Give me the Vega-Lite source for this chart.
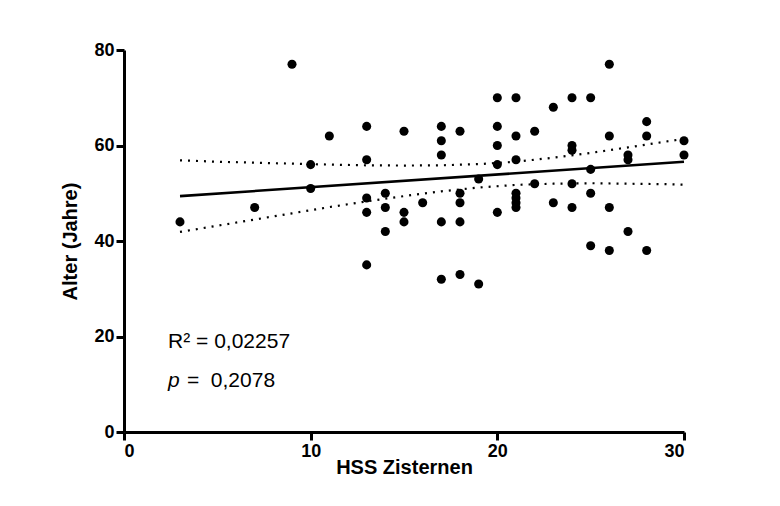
{
  "$schema": "https://vega.github.io/schema/vega-lite/v6.json",
  "autosize": "none",
  "width": 560,
  "height": 382,
  "padding": {"left": 124, "top": 50, "right": 96, "bottom": 74},
  "background": "white",
  "config": {
    "view": {"stroke": null},
    "axis": {
      "grid": false,
      "domainColor": "black",
      "domainWidth": 3,
      "tickColor": "black",
      "tickWidth": 3,
      "tickSize": 8,
      "labelFont": "Liberation Sans",
      "labelFontWeight": "bold",
      "labelFontSize": 18,
      "labelColor": "black",
      "labelPadding": 2,
      "titleFont": "Liberation Sans",
      "titleFontWeight": "bold",
      "titleFontSize": 20,
      "titleColor": "black"
    }
  },
  "datasets": {
    "points": [
      {"x": 3, "y": 44}, {"x": 7, "y": 47}, {"x": 9, "y": 77},
      {"x": 10, "y": 56}, {"x": 10, "y": 51}, {"x": 11, "y": 62},
      {"x": 13, "y": 64}, {"x": 13, "y": 57}, {"x": 13, "y": 49}, {"x": 13, "y": 46}, {"x": 13, "y": 35},
      {"x": 14, "y": 50}, {"x": 14, "y": 47}, {"x": 14, "y": 42},
      {"x": 15, "y": 63}, {"x": 15, "y": 46}, {"x": 15, "y": 44},
      {"x": 16, "y": 48},
      {"x": 17, "y": 64}, {"x": 17, "y": 61}, {"x": 17, "y": 58}, {"x": 17, "y": 44}, {"x": 17, "y": 32},
      {"x": 18, "y": 63}, {"x": 18, "y": 50}, {"x": 18, "y": 48}, {"x": 18, "y": 44}, {"x": 18, "y": 33},
      {"x": 19, "y": 53}, {"x": 19, "y": 31},
      {"x": 20, "y": 70}, {"x": 20, "y": 64}, {"x": 20, "y": 60}, {"x": 20, "y": 56}, {"x": 20, "y": 46},
      {"x": 21, "y": 70}, {"x": 21, "y": 62}, {"x": 21, "y": 57}, {"x": 21, "y": 50}, {"x": 21, "y": 49}, {"x": 21, "y": 48}, {"x": 21, "y": 47},
      {"x": 22, "y": 63}, {"x": 22, "y": 52},
      {"x": 23, "y": 68}, {"x": 23, "y": 48},
      {"x": 24, "y": 70}, {"x": 24, "y": 60}, {"x": 24, "y": 59}, {"x": 24, "y": 52}, {"x": 24, "y": 47},
      {"x": 25, "y": 70}, {"x": 25, "y": 55}, {"x": 25, "y": 50}, {"x": 25, "y": 39},
      {"x": 26, "y": 77}, {"x": 26, "y": 62}, {"x": 26, "y": 47}, {"x": 26, "y": 38},
      {"x": 27, "y": 58}, {"x": 27, "y": 57}, {"x": 27, "y": 42},
      {"x": 28, "y": 65}, {"x": 28, "y": 62}, {"x": 28, "y": 38},
      {"x": 30, "y": 61}, {"x": 30, "y": 58}
    ],
    "fit": [{"x": 3, "y": 49.4}, {"x": 30, "y": 56.6}],
    "band": [
      {"x": 3, "y": 56.9, "side": "upper"}, {"x": 5, "y": 56.6, "side": "upper"}, {"x": 7, "y": 56.4, "side": "upper"},
      {"x": 9, "y": 56.2, "side": "upper"}, {"x": 11, "y": 56.0, "side": "upper"}, {"x": 13, "y": 55.85, "side": "upper"},
      {"x": 15, "y": 55.8, "side": "upper"}, {"x": 17, "y": 55.85, "side": "upper"}, {"x": 19, "y": 56.1, "side": "upper"},
      {"x": 21, "y": 56.6, "side": "upper"}, {"x": 23, "y": 57.45, "side": "upper"}, {"x": 25, "y": 58.45, "side": "upper"},
      {"x": 27, "y": 59.6, "side": "upper"}, {"x": 29, "y": 60.8, "side": "upper"}, {"x": 30, "y": 61.4, "side": "upper"},
      {"x": 3, "y": 41.9, "side": "lower"}, {"x": 5, "y": 43.2, "side": "lower"}, {"x": 7, "y": 44.5, "side": "lower"},
      {"x": 9, "y": 45.8, "side": "lower"}, {"x": 11, "y": 47.1, "side": "lower"}, {"x": 13, "y": 48.3, "side": "lower"},
      {"x": 15, "y": 49.4, "side": "lower"}, {"x": 17, "y": 50.4, "side": "lower"}, {"x": 19, "y": 51.2, "side": "lower"},
      {"x": 21, "y": 51.75, "side": "lower"}, {"x": 23, "y": 52.0, "side": "lower"}, {"x": 25, "y": 52.1, "side": "lower"},
      {"x": 27, "y": 52.0, "side": "lower"}, {"x": 29, "y": 51.9, "side": "lower"}, {"x": 30, "y": 51.8, "side": "lower"}
    ],
    "notes": [
      {"x": 2.36, "y": 17.6, "label": "R² = 0,02257"},
      {"x": 3.37, "y": 9.5, "label": "= \u00a00,2078"}
    ],
    "pnote": [{"x": 2.36, "y": 9.5, "label": "p"}]
  },
  "encoding": {
    "x": {
      "field": "x", "type": "quantitative",
      "scale": {"domain": [0, 30], "nice": false},
      "axis": {"values": [0, 10, 20, 30], "title": "HSS Zisternen", "titlePadding": -3}
    },
    "y": {
      "field": "y", "type": "quantitative",
      "scale": {"domain": [0, 80], "nice": false},
      "axis": {"values": [0, 20, 40, 60, 80], "title": "Alter (Jahre)", "titlePadding": 13}
    }
  },
  "layer": [
    {
      "data": {"name": "band"},
      "mark": {"type": "line", "color": "black", "strokeWidth": 2.2, "strokeDash": [2, 6], "clip": false},
      "encoding": {"detail": {"field": "side", "type": "nominal"}}
    },
    {
      "data": {"name": "fit"},
      "mark": {"type": "line", "color": "black", "strokeWidth": 2.6},
      "encoding": {}
    },
    {
      "data": {"name": "points"},
      "mark": {"type": "point", "shape": "circle", "filled": true, "color": "black", "opacity": 1, "size": 82}
    },
    {
      "data": {"name": "notes"},
      "mark": {"type": "text", "align": "left", "baseline": "alphabetic", "font": "Liberation Sans", "fontSize": 21, "color": "black"},
      "encoding": {"text": {"field": "label", "type": "nominal"}}
    },
    {
      "data": {"name": "pnote"},
      "mark": {"type": "text", "align": "left", "baseline": "alphabetic", "font": "Liberation Sans", "fontStyle": "italic", "fontSize": 21, "color": "black"},
      "encoding": {"text": {"field": "label", "type": "nominal"}}
    }
  ]
}
